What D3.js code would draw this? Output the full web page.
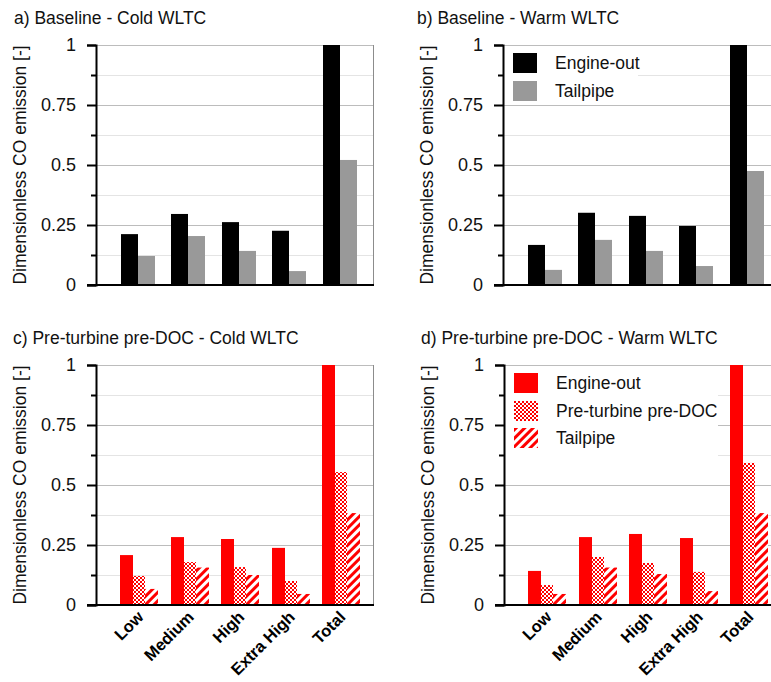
<!DOCTYPE html>
<html>
<head>
<meta charset="utf-8">
<script src="https://cdn.jsdelivr.net/npm/d3@7"></script>
<style>
  body { margin: 0; background: #fff; }
  svg { display: block; font-family: 'Liberation Sans', Arial, sans-serif; }
</style>
</head>
<body>
<svg id="chart" width="771" height="682"></svg>
<script>
// categories and series
var categories = ['Low', 'Medium', 'High', 'Extra High', 'Total']
var baselineSeries = ['Engine-out', 'Tailpipe']
var preTurbineSeries = ['Engine-out', 'Pre-turbine pre-DOC', 'Tailpipe']

// values
var coldBaselineEngineOut = [0.212, 0.296, 0.262, 0.226, 1.0]
var coldBaselineTailpipe = [0.121, 0.204, 0.142, 0.058, 0.521]
var warmBaselineEngineOut = [0.167, 0.301, 0.288, 0.246, 1.0]
var warmBaselineTailpipe = [0.063, 0.188, 0.142, 0.079, 0.475]

var coldPreEngineOut = [0.208, 0.283, 0.275, 0.238, 1.0]
var coldPrePreDoc = [0.121, 0.179, 0.158, 0.100, 0.554]
var coldPreTailpipe = [0.067, 0.156, 0.125, 0.046, 0.383]
var warmPreEngineOut = [0.142, 0.283, 0.296, 0.279, 1.0]
var warmPrePreDoc = [0.083, 0.200, 0.175, 0.138, 0.592]
var warmPreTailpipe = [0.046, 0.156, 0.129, 0.058, 0.383]

var yMajorTicks = [0, 0.25, 0.5, 0.75, 1]
var yMinorTicks = [0.125, 0.375, 0.625, 0.875]
var yTickLabels = ['0', '0.25', '0.5', '0.75', '1']
var yTitle = 'Dimensionless CO emission [-]'

var svg = d3.select('#chart')
var defs = svg.append('defs')

// red/white checker for the pre-DOC bars
var dots = defs.append('pattern')
    .attr('id', 'dots')
    .attr('patternUnits', 'userSpaceOnUse')
    .attr('width', 4)
    .attr('height', 4)
dots.append('rect').attr('width', 4).attr('height', 4).attr('fill', '#fff')
dots.append('rect').attr('width', 2).attr('height', 2).attr('fill', '#ff0000')
dots.append('rect').attr('x', 2).attr('y', 2).attr('width', 2).attr('height', 2).attr('fill', '#ff0000')

var stripes = defs.append('pattern')
    .attr('id', 'stripes')
    .attr('patternUnits', 'userSpaceOnUse')
    .attr('width', 6)
    .attr('height', 6)
    .attr('patternTransform', 'rotate(45)')
stripes.append('rect').attr('width', 6).attr('height', 6).attr('fill', '#fff')
stripes.append('rect').attr('width', 3).attr('height', 6).attr('fill', '#ff0000')

var W = 277
var H = 240

function panel (opts) {
  var g = svg.append('g')
      .attr('transform', 'translate(' + opts.left + ',' + opts.top + ')')

  var y = d3.scaleLinear().domain([0, 1]).range([H, 0])

  var x0 = d3.scaleBand()
      .domain(categories)
      .range(opts.xRange)
      .paddingInner(opts.pad)
      .paddingOuter(opts.pad / 2)

  var x1 = d3.scaleBand()
      .domain(opts.series)
      .range([0, x0.bandwidth()])

  // title
  svg.append('text')
      .attr('x', opts.titleX)
      .attr('y', opts.top - 21)
      .attr('font-size', 17.5)
      .attr('fill', '#111')
      .text(opts.title)

  // y title
  svg.append('text')
      .attr('transform', 'translate(' + (opts.left - 70) + ',' + (opts.top + H / 2) + ') rotate(-90)')
      .attr('text-anchor', 'middle')
      .attr('font-size', 17.5)
      .attr('fill', '#111')
      .text(yTitle)

  // grid
  g.selectAll('.minor-grid')
      .data(yMinorTicks)
    .enter().append('line')
      .attr('x1', 0).attr('x2', W)
      .attr('y1', d => y(d) + 0.5).attr('y2', d => y(d) + 0.5)
      .attr('stroke', '#e4e4e4')
  g.selectAll('.major-grid')
      .data(yMajorTicks.slice(1))
    .enter().append('line')
      .attr('x1', 0).attr('x2', W)
      .attr('y1', d => y(d) + 0.5).attr('y2', d => y(d) + 0.5)
      .attr('stroke', '#bcbcbc')
  g.append('line')
      .attr('x1', W + 0.5).attr('x2', W + 0.5)
      .attr('y1', 0).attr('y2', H)
      .attr('stroke', '#8c8c8c')

  // legend
  if (opts.legend) {
    var lg = g.append('g')
    lg.append('rect')
        .attr('x', 1).attr('y', 2)
        .attr('width', opts.legend.w).attr('height', opts.legend.h)
        .attr('fill', '#fff')
    var item = lg.selectAll('.item')
        .data(opts.series)
      .enter().append('g')
        .attr('transform', (d, i) => 'translate(10,' + Math.round(8 + i * 27.5) + ')')
    item.append('rect')
        .attr('width', 24).attr('height', 20)
        .attr('fill', (d, i) => opts.fills[i])
    item.append('text')
        .attr('x', 42).attr('y', 10).attr('dy', '0.35em')
        .attr('font-size', 17.5)
        .attr('fill', '#111')
        .text(d => d)
  }

  // bars
  var groups = g.selectAll('.grp')
      .data(categories)
    .enter().append('g')
      .attr('transform', d => 'translate(' + Math.round(x0(d)) + ',0)')
  groups.selectAll('rect')
      .data((c, ci) => opts.series.map((s, si) => ({ s: s, i: si, v: opts.values[si][ci] })))
    .enter().append('rect')
      .attr('x', d => Math.round(x1(d.s)))
      .attr('width', d => Math.round(x1(d.s) + x1.bandwidth()) - Math.round(x1(d.s)))
      .attr('y', d => y(d.v))
      .attr('height', d => H - y(d.v))
      .attr('fill', d => opts.fills[d.i])

  // y axis, minor then major
  g.append('g')
      .call(d3.axisLeft(y).tickValues(yMinorTicks).tickSize(5).tickFormat(''))
      .call(a => a.select('.domain').remove())
      .selectAll('line').attr('stroke', '#000').attr('stroke-width', 2)
  var ya = g.append('g')
      .call(d3.axisLeft(y).tickValues(yMajorTicks).tickSize(9).tickPadding(11)
        .tickFormat((d, i) => yTickLabels[i]))
  ya.select('.domain').attr('stroke', '#000').attr('stroke-width', 2)
  ya.selectAll('line').attr('stroke', '#000').attr('stroke-width', 2)
  ya.selectAll('text')
      .attr('font-size', 18)
      .attr('font-family', 'Liberation Sans, Arial, sans-serif')
      .attr('fill', '#111')

  // x axis
  var xa = g.append('g')
      .attr('transform', 'translate(0,' + H + ')')
      .call(d3.axisBottom(x0).tickSize(0).tickPadding(0))
  xa.select('.domain').attr('stroke', '#000').attr('stroke-width', 2)
  xa.select('.domain').attr('d', 'M-9,0H' + (W + 1))
  if (opts.xLabels) {
    xa.selectAll('text')
        .attr('font-size', 16.5)
        .attr('font-weight', 'bold')
        .attr('font-family', 'Liberation Sans, Arial, sans-serif')
        .attr('fill', '#000')
        .attr('text-anchor', 'end')
        .attr('y', 0)
        .attr('dy', 0)
        .attr('transform', 'translate(5,13) rotate(-45)')
  } else {
    xa.selectAll('text').remove()
  }
}

panel({
  title: 'a) Baseline - Cold WLTC', titleX: 14,
  left: 96, top: 45,
  xRange: [16.25, 268.75], pad: 0.327,
  series: baselineSeries,
  values: [coldBaselineEngineOut, coldBaselineTailpipe],
  fills: ['#000', '#999']
})
panel({
  title: 'b) Baseline - Warm WLTC', titleX: 417,
  left: 503, top: 45,
  xRange: [16.25, 268.75], pad: 0.327,
  series: baselineSeries,
  values: [warmBaselineEngineOut, warmBaselineTailpipe],
  fills: ['#000', '#999'],
  legend: { w: 134, h: 57 }
})
panel({
  title: 'c) Pre-turbine pre-DOC - Cold WLTC', titleX: 13,
  left: 96, top: 365,
  xRange: [18.25, 270.75], pad: 0.2475,
  series: preTurbineSeries,
  values: [coldPreEngineOut, coldPrePreDoc, coldPreTailpipe],
  fills: ['#ff0000', 'url(#dots)', 'url(#stripes)'],
  xLabels: true
})
panel({
  title: 'd) Pre-turbine pre-DOC - Warm WLTC', titleX: 421,
  left: 504, top: 365,
  xRange: [18.25, 270.75], pad: 0.2475,
  series: preTurbineSeries,
  values: [warmPreEngineOut, warmPrePreDoc, warmPreTailpipe],
  fills: ['#ff0000', 'url(#dots)', 'url(#stripes)'],
  legend: { w: 213, h: 89 },
  xLabels: true
})
</script>
</body>
</html>
